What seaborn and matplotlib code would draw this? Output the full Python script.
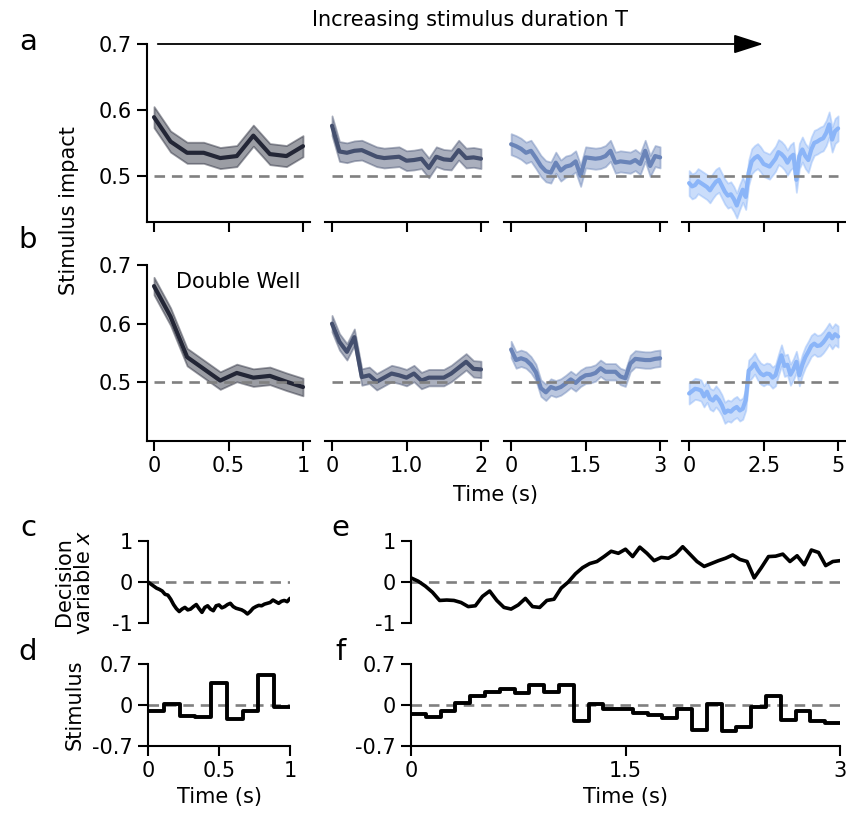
import numpy as np
import pandas as pd
import matplotlib
matplotlib.use("Agg")
import matplotlib.pyplot as plt
import seaborn as sns

# ---------------- data ----------------
durations = [1, 2, 3, 5]

a1 = [0.589, 0.552, 0.535, 0.535, 0.527, 0.530, 0.561, 0.533, 0.530, 0.545]
a2 = [0.576, 0.537, 0.535, 0.538, 0.539, 0.534, 0.529, 0.527, 0.528, 0.529, 0.523,
      0.524, 0.526, 0.512, 0.529, 0.525, 0.524, 0.539, 0.527, 0.528, 0.526]
a3 = [0.548, 0.545, 0.541, 0.535, 0.538, 0.527, 0.515, 0.507, 0.505, 0.520, 0.508,
      0.514, 0.516, 0.522, 0.500, 0.528, 0.527, 0.526, 0.527, 0.530, 0.538, 0.520,
      0.522, 0.521, 0.520, 0.524, 0.518, 0.538, 0.515, 0.530, 0.528]
a4 = [0.489, 0.484, 0.486, 0.492, 0.489, 0.486, 0.483, 0.478, 0.485, 0.491, 0.494,
      0.485, 0.476, 0.470, 0.472, 0.465, 0.455, 0.468, 0.479, 0.468, 0.505, 0.522,
      0.527, 0.530, 0.525, 0.518, 0.516, 0.514, 0.520, 0.526, 0.536, 0.533, 0.528,
      0.520, 0.528, 0.532, 0.494, 0.530, 0.540, 0.530, 0.524, 0.540, 0.550, 0.552,
      0.555, 0.557, 0.565, 0.578, 0.555, 0.568, 0.572]

b1 = [0.664, 0.612, 0.543, 0.523, 0.503, 0.516, 0.508, 0.511, 0.501, 0.492]
b2 = [0.600, 0.569, 0.552, 0.577, 0.509, 0.512, 0.501, 0.508, 0.515, 0.512, 0.508,
      0.515, 0.503, 0.508, 0.508, 0.508, 0.515, 0.525, 0.535, 0.523, 0.522]
b3 = [0.556, 0.538, 0.541, 0.538, 0.530, 0.517, 0.490, 0.483, 0.492, 0.489, 0.492,
      0.498, 0.505, 0.499, 0.507, 0.512, 0.513, 0.516, 0.524, 0.518, 0.518, 0.518,
      0.510, 0.507, 0.532, 0.540, 0.539, 0.538, 0.538, 0.540, 0.541]
b4 = [0.481, 0.485, 0.489, 0.488, 0.486, 0.476, 0.484, 0.472, 0.469, 0.476, 0.470,
      0.461, 0.448, 0.452, 0.450, 0.455, 0.458, 0.452, 0.455, 0.470, 0.520, 0.525,
      0.532, 0.522, 0.515, 0.512, 0.515, 0.514, 0.508, 0.512, 0.530, 0.546, 0.528,
      0.530, 0.513, 0.522, 0.535, 0.512, 0.530, 0.543, 0.552, 0.562, 0.566, 0.562,
      0.563, 0.568, 0.575, 0.583, 0.575, 0.582, 0.578]

band_a = [0.016, 0.015, 0.016, 0.019]
band_b = [0.015, 0.014, 0.014, 0.018]

colors = ["#232636", "#444f6e", "#6a84b8", "#8bb5f8"]

xtick_vals = [[0, 0.5, 1], [0, 1.0, 2], [0, 1.5, 3], [0, 2.5, 5]]
xtick_labels = [["0", "0.5", "1"], ["0", "1.0", "2"], ["0", "1.5", "3"], ["0", "2.5", "5"]]

# decision variable traces
dv_short = [0.0, -0.05, -0.10, -0.15, -0.18, -0.22, -0.30, -0.32, -0.42, -0.55, -0.65,
            -0.72, -0.66, -0.62, -0.68, -0.66, -0.60, -0.55, -0.65, -0.74, -0.62,
            -0.58, -0.66, -0.70, -0.58, -0.56, -0.63, -0.60, -0.55, -0.52, -0.60,
            -0.64, -0.66, -0.68, -0.72, -0.78, -0.72, -0.64, -0.60, -0.57, -0.58,
            -0.54, -0.52, -0.50, -0.44, -0.48, -0.52, -0.47, -0.45, -0.48, -0.40]
dv_long = [0.10, 0.02, -0.10, -0.25, -0.45, -0.44, -0.45, -0.50, -0.60, -0.58, -0.35,
           -0.22, -0.45, -0.62, -0.66, -0.56, -0.40, -0.60, -0.62, -0.45, -0.42,
           -0.15, 0.0, 0.20, 0.35, 0.45, 0.50, 0.62, 0.75, 0.70, 0.80, 0.62, 0.85,
           0.70, 0.52, 0.60, 0.58, 0.68, 0.86, 0.68, 0.50, 0.38, 0.45, 0.52, 0.58,
           0.66, 0.55, 0.50, 0.10, 0.35, 0.62, 0.63, 0.68, 0.50, 0.64, 0.42, 0.78,
           0.72, 0.40, 0.50, 0.52]

# stimulus step values
stim_short = [-0.11, 0.02, -0.19, -0.21, 0.38, -0.24, -0.11, 0.51, -0.03]
stim_long = [-0.15, -0.20, -0.11, 0.03, 0.15, 0.23, 0.28, 0.20, 0.34, 0.23, 0.35,
             -0.27, 0.01, -0.06, -0.07, -0.14, -0.17, -0.23, -0.07, -0.42, 0.01,
             -0.44, -0.37, -0.03, 0.15, -0.26, -0.10, -0.28, -0.30]

# ---------------- figure ----------------
sns.set_style("ticks")
plt.rcParams["font.family"] = ["DejaVu Sans"]
plt.rcParams.update({
    "axes.linewidth": 1.5,
    "xtick.major.width": 1.5, "ytick.major.width": 1.5,
    "xtick.major.size": 7, "ytick.major.size": 7,
    "xtick.major.pad": 4, "ytick.major.pad": 4,
    "xtick.labelsize": 15, "ytick.labelsize": 15,
    "text.color": "black", "axes.labelcolor": "black",
    "xtick.color": "black", "ytick.color": "black",
    "axes.edgecolor": "black",
})
FS = 15

W, H = 846, 817
fig = plt.figure(figsize=(W / 100, H / 100), dpi=100)


def ax_px(l, t, r, b):
    return fig.add_axes([l / W, 1 - b / H, (r - l) / W, (b - t) / H])


DASH = (0, (4, 2.6))
lefts = [147.3, 325.3, 504.4, 682.4]
width = 162.4
rows = [(a1, a2, a3, a4), (b1, b2, b3, b4)]
row_px = [(44, 222), (265, 441)]
row_ylim = [(0.43, 0.70), (0.40, 0.70)]
bands = [band_a, band_b]

for r in range(2):
    for c in range(4):
        ax = ax_px(lefts[c], row_px[r][0], lefts[c] + width, row_px[r][1])
        T = durations[c]
        y = np.array(rows[r][c])
        t = np.linspace(0, T, len(y))
        df = pd.DataFrame({"t": t, "y": y})
        ax.fill_between(t, y - bands[r][c], y + bands[r][c], color=colors[c],
                        alpha=0.45, lw=1.3)
        sns.lineplot(data=df, x="t", y="y", ax=ax, color=colors[c], lw=3.0)
        ax.plot([0, T], [0.5, 0.5], ls=DASH, color="#808080", lw=1.9)
        ax.set_xlim(-0.045 * T, 1.045 * T)
        ax.set_ylim(*row_ylim[r])
        ax.set_xticks(xtick_vals[c])
        ax.set_xlabel("")
        ax.set_ylabel("")
        if r == 0:
            ax.set_xticklabels([])
        else:
            ax.set_xticklabels(xtick_labels[c])
        if c == 0:
            ax.set_yticks([0.5, 0.6, 0.7])
            ax.set_yticklabels(["0.5", "0.6", "0.7"])
            sns.despine(ax=ax)
        else:
            ax.set_yticks([])
            sns.despine(ax=ax, left=True)
        if r == 1 and c == 0:
            ax.text(0.56, 0.905, "Double Well", ha="center", va="center",
                    fontsize=FS, transform=ax.transAxes)


def dv_panel(l, r_, vals, T):
    ax = ax_px(l, 541, r_, 623)
    t = np.linspace(0, T, len(vals))
    df = pd.DataFrame({"t": t, "x": vals})
    ax.plot([0, T], [0, 0], ls=DASH, color="#808080", lw=1.9)
    sns.lineplot(data=df, x="t", y="x", ax=ax, color="black", lw=2.6)
    ax.set_xlim(0, T)
    ax.set_ylim(-1, 1)
    ax.set_yticks([1, 0, -1])
    ax.set_yticklabels(["1", "0", "-1"])
    ax.set_xticks([])
    ax.set_xlabel("")
    ax.set_ylabel("")
    sns.despine(ax=ax, bottom=True)
    return ax


def stim_panel(l, r_, vals, T, xt, xtl):
    ax = ax_px(l, 664, r_, 746)
    edges = np.linspace(0, T, len(vals) + 1)
    yy = list(vals) + [vals[-1]]
    df = pd.DataFrame({"t": edges, "s": yy})
    ax.plot([0, T], [0, 0], ls=DASH, color="#808080", lw=1.9)
    sns.lineplot(data=df, x="t", y="s", ax=ax, color="black", lw=2.8,
                 drawstyle="steps-post")
    ax.set_xlim(0, T)
    ax.set_ylim(-0.7, 0.7)
    ax.set_yticks([0.7, 0, -0.7])
    ax.set_yticklabels(["0.7", "0", "-0.7"])
    ax.set_xticks(xt)
    ax.set_xticklabels(xtl)
    ax.set_xlabel("Time (s)", fontsize=FS, labelpad=4)
    ax.set_ylabel("")
    sns.despine(ax=ax)
    return ax


dv_panel(148, 290, dv_short, 1)
dv_panel(411, 840, dv_long, 3)
stim_panel(148, 290, stim_short, 1, [0, 0.5, 1], ["0", "0.5", "1"])
stim_panel(411, 840, stim_long, 3, [0, 1.5, 3], ["0", "1.5", "3"])


def ftext(x, y, s, **kw):
    fig.text(x / W, 1 - y / H, s, **kw)


for lab, (x, y) in zip("abcdef", [(28, 42), (28, 240), (28, 528), (28, 652),
                                  (340, 528), (340, 652)]):
    ftext(x, y, lab, fontsize=21, ha="center", va="center")

ftext(69, 211, "Stimulus impact", fontsize=FS, rotation=90, ha="center", va="center")
ftext(495, 495, "Time (s)", fontsize=FS, ha="center", va="center")
ftext(74, 582, "Decision\nvariable $x$", fontsize=FS, rotation=90, ha="center",
      va="center", linespacing=1.05)
ftext(75, 705, "Stimulus", fontsize=FS, rotation=90, ha="center", va="center")
ftext(470, 20, "Increasing stimulus duration T", fontsize=FS, ha="center", va="center")

fig.patches.append(matplotlib.patches.FancyArrowPatch(
    (155 / W, 1 - 44 / H), (766 / W, 1 - 44 / H), transform=fig.transFigure,
    arrowstyle="-|>,head_length=1.4,head_width=0.45", mutation_scale=13,
    color="black", lw=1.3))

fig.savefig("out.png", dpi=100)
